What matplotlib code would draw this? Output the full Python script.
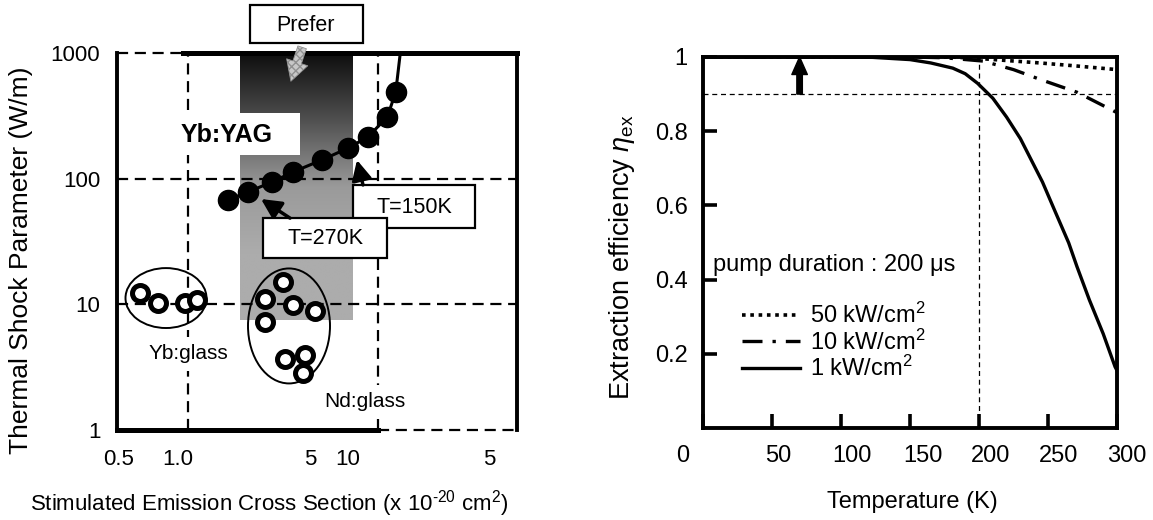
import numpy as np
import matplotlib
matplotlib.use('Agg')
import matplotlib.pyplot as plt
from matplotlib.patches import Rectangle, Ellipse, FancyArrowPatch
from matplotlib.colors import LinearSegmentedColormap
import matplotlib.transforms as mtransforms

plt.rcParams['font.family'] = ['Liberation Sans', 'DejaVu Sans']
plt.rcParams['mathtext.fontset'] = 'custom'
plt.rcParams['mathtext.rm'] = 'Liberation Sans'
plt.rcParams['mathtext.it'] = 'Liberation Sans:italic'
plt.rcParams['mathtext.bf'] = 'Liberation Sans:bold'

# ---------------- Left panel data ----------------
yag_sigma = [1.62, 2.07, 2.77, 3.57, 5.07, 6.95, 8.86, 11.2, 12.4]
yag_tsp = [67.7, 78.4, 94.1, 113, 141, 175, 215, 310, 490]
yag_tail_sigma = [12.4, 13.1]
yag_tail_tsp = [490, 1000]
ybglass_sigma = [0.559, 0.695, 0.964, 1.115]
ybglass_tsp = [12.3, 10.3, 10.3, 10.8]
ndglass_sigma = [3.16, 2.54, 3.57, 4.66, 2.54, 3.24, 4.13, 4.03]
ndglass_tsp = [15.1, 11.0, 9.9, 8.9, 7.24, 3.68, 3.96, 2.85]
left_yticks = [1, 10, 100, 1000]
left_yticklabels = ['1', '10', '100', '1000']
left_xticks = [0.5, 1, 5, 10, 50]
left_xticklabels = ['0.5', '1.0', '5', '10', '5']
left_xtick_offsets = [-12, -10, -11, -30, -22]   # label shifts in px
guide_sigma = [1, 10]
guide_tsp = [10, 100]

# ---------------- Right panel data ----------------
temp_1kw = [0, 50, 100, 123, 150, 165, 181, 190, 199, 210, 220, 230, 246, 255, 265, 271, 280, 290, 298.6, 300]
eta_1kw = [1.0, 1.0, 1.0, 0.999, 0.993, 0.984, 0.970, 0.955, 0.929, 0.889, 0.838, 0.780, 0.663, 0.585, 0.499, 0.435, 0.345, 0.254, 0.165, 0.155]
temp_10kw = [0, 100, 150, 175, 203, 225, 244, 271, 300]
eta_10kw = [1.0, 1.0, 1.0, 0.998, 0.989, 0.966, 0.940, 0.905, 0.850]
temp_50kw = [0, 100, 180, 200, 244, 270, 300]
eta_50kw = [1.0, 1.0, 1.0, 0.996, 0.984, 0.976, 0.966]
right_xticks = [0, 50, 100, 150, 200, 250, 300]
right_xtick_offsets = [-20, 6, 11, 13, 12, 11, 10]
right_yticks = [0.2, 0.4, 0.6, 0.8, 1.0]
right_yticklabels = ['0.2', '0.4', '0.6', '0.8', '1']
threshold_eta = 0.9
threshold_temp = 200
arrow_temp = 70
legend_labels = ['50 kW/cm$^2$', '10 kW/cm$^2$', '1 kW/cm$^2$']

fig = plt.figure(figsize=(11.53, 5.2), dpi=100)
W, H = 1153, 520

def px_axes(l, t, r, b):
    return [l / W, 1 - b / H, (r - l) / W, (b - t) / H]

# ======================= LEFT PANEL =======================
ax = fig.add_axes(px_axes(117, 53, 517, 430))
ax.set_xscale('log')
ax.set_yscale('log')

# gradient "prefer" region (axes coords)
cmap = LinearSegmentedColormap.from_list('pref', ['#0e0e0e', '#505050', '#9a9a9a', '#acacac', '#acacac'])
grad = np.linspace(0, 1, 256).reshape(-1, 1)
ax.imshow(grad, cmap=cmap, extent=[0.3075, 0.59, 0.2918, 1.0], transform=ax.transAxes,
          aspect='auto', origin='upper', zorder=0.5, interpolation='bilinear')
ax.set_xlim(0.423, 53.9)
ax.set_ylim(1, 1000)
# white notch behind Yb:YAG
ax.add_patch(Rectangle((0.145, 0.7294), 0.3125, 0.1114, transform=ax.transAxes,
                       facecolor='white', edgecolor='none', zorder=0.8))

# dashed guide lines
for s in guide_sigma:
    ax.axvline(s, color='black', lw=1.6, ls=(0, (5, 3)), zorder=0.7)
for t in guide_tsp:
    ax.axhline(t, color='black', lw=1.6, ls=(0, (5, 3)), zorder=0.7)

# borders (mixed solid/dashed like reference)
for sp in ['top', 'bottom']:
    ax.spines[sp].set_visible(False)
for sp in ['left', 'right']:
    ax.spines[sp].set_linewidth(2.8)
ax.axhline(1, xmin=0, xmax=0.6525, color='black', lw=3.6, zorder=3, clip_on=False)
ax.axhline(1, xmin=0.6525, xmax=1, color='black', lw=1.6, ls=(0, (5, 3)), zorder=3, clip_on=False)
ax.axhline(1000, xmin=0, xmax=0.165, color='black', lw=1.6, ls=(0, (5, 3)), zorder=3, clip_on=False)
ax.axhline(1000, xmin=0.165, xmax=1, color='black', lw=3.6, zorder=3, clip_on=False)

# Yb:YAG curve
ax.plot(yag_sigma + yag_tail_sigma[1:], yag_tsp + yag_tail_tsp[1:], color='black', lw=2.2, zorder=4,
        clip_on=False)
ax.plot(yag_sigma, yag_tsp, 'o', color='black', ms=14.5, zorder=5)

# glasses
ax.plot(ybglass_sigma, ybglass_tsp, 'o', mfc='white', mec='black', mew=3.6, ms=11.5, zorder=5)
ax.plot(ndglass_sigma, ndglass_tsp, 'o', mfc='white', mec='black', mew=3.6, ms=11.5, zorder=5)
ax.add_patch(Ellipse((0.1225, 0.350), 0.2025, 0.159, transform=ax.transAxes,
                     facecolor='none', edgecolor='black', lw=1.4, zorder=4))
ax.add_patch(Ellipse((0.43, 0.276), 0.205, 0.305, transform=ax.transAxes,
                     facecolor='none', edgecolor='black', lw=1.4, zorder=4))

ax.text(0.1775, 0.2016, 'Yb:glass', transform=ax.transAxes, ha='center', va='center',
        fontsize=15, zorder=4,
        bbox=dict(boxstyle='square,pad=0.35', fc='white', ec='none'))
ax.text(0.62, 0.0743, 'Nd:glass', transform=ax.transAxes, ha='center', va='center',
        fontsize=15, zorder=4,
        bbox=dict(boxstyle='square,pad=0.35', fc='white', ec='none'))
ax.text(0.275, 0.782, 'Yb:YAG', transform=ax.transAxes, ha='center', va='center',
        fontsize=18, fontweight='bold', zorder=4)

def boxed(axx, x0, y0, x1, y1, text, tx, ty, z):
    axx.add_patch(Rectangle((x0, y0), x1 - x0, y1 - y0, transform=axx.transAxes,
                            facecolor='white', edgecolor='black', lw=1.6, zorder=z, clip_on=False))
    axx.text(tx, ty, text, transform=axx.transAxes, ha='center', va='center',
             fontsize=15.5, zorder=z + 0.1, clip_on=False)

# T=150K box (below) then T=270K box (on top)
boxed(ax, 0.59, 0.536, 0.895, 0.650, 'T=150K', 0.7425, 0.5915, 6)
ax.annotate('', xy=(0.60, 0.7162), xytext=(0.615, 0.650), xycoords='axes fraction',
            textcoords='axes fraction',
            arrowprops=dict(arrowstyle='-|>,head_length=0.6,head_width=0.3', lw=2.5, color='black',
                            shrinkA=0, shrinkB=0, mutation_scale=20), zorder=6)
boxed(ax, 0.365, 0.456, 0.675, 0.562, 'T=270K', 0.52, 0.509, 7)
ax.annotate('', xy=(0.36, 0.6127), xytext=(0.4325, 0.562), xycoords='axes fraction',
            textcoords='axes fraction',
            arrowprops=dict(arrowstyle='-|>,head_length=0.6,head_width=0.3', lw=2.5, color='black',
                            shrinkA=0, shrinkB=0, mutation_scale=20), zorder=7)

# Prefer box above axes
boxed(ax, 0.3325, 1.027, 0.615, 1.127, 'Prefer', 0.4725, 1.074, 8)
pref_arrow = FancyArrowPatch((0.465, 1.022), (0.4325, 0.918), transform=ax.transAxes,
                             arrowstyle='simple,head_length=0.9,head_width=1.0,tail_width=0.4',
                             mutation_scale=16, facecolor='#c8c8c8', edgecolor='#909090',
                             hatch='xxxx', lw=0.6, zorder=8, clip_on=False)
ax.add_patch(pref_arrow)

# ticks
ax.set_yticks(left_yticks)
ax.set_yticklabels(left_yticklabels)
ax.set_xticks(left_xticks)
ax.set_xticklabels(left_xticklabels)
ax.minorticks_off()
ax.tick_params(axis='both', length=0, labelsize=16)
ax.tick_params(axis='y', pad=12)
ax.tick_params(axis='x', pad=14)
for lab, off in zip(ax.get_xticklabels(), left_xtick_offsets):
    lab.set_transform(lab.get_transform() + mtransforms.ScaledTranslation(off / 100, 0, fig.dpi_scale_trans))

ax.set_ylabel('Thermal Shock Parameter (W/m)', fontsize=19)
ax.yaxis.set_label_coords(-0.21, 0.45)
ax.set_xlabel('Stimulated Emission Cross Section (x 10$^{\\text{-}20}$ cm$^2$)', fontsize=16)
ax.xaxis.set_label_coords(0.38, -0.155)

# ======================= RIGHT PANEL =======================
bx = fig.add_axes(px_axes(703, 57, 1117, 428))
bx.set_xlim(0, 300)
bx.set_ylim(0, 1)
for sp in bx.spines.values():
    sp.set_linewidth(2.8)

bx.axhline(threshold_eta, color='black', lw=0.9, ls=(0, (4, 3)), zorder=1)
bx.axvline(threshold_temp, color='black', lw=0.9, ls=(0, (4, 3)), zorder=1)

l50, = bx.plot(temp_50kw, eta_50kw, color='black', lw=2.6, ls=(0, (1, 1.3)), zorder=3)
l10, = bx.plot(temp_10kw, eta_10kw, color='black', lw=2.4, ls=(0, (6, 3, 1, 3)), zorder=3)
l1, = bx.plot(temp_1kw, eta_1kw, color='black', lw=2.4, zorder=3)

bx.annotate('', xy=(arrow_temp, 1.0), xytext=(arrow_temp, threshold_eta),
            arrowprops=dict(arrowstyle='simple,head_length=0.7,head_width=0.62,tail_width=0.22',
                            color='black', shrinkA=0, shrinkB=0, mutation_scale=18), zorder=4)

bx.text(7, 0.44, 'pump duration : 200 \u03bcs', fontsize=17, ha='left', va='center')
leg = bx.legend([l50, l10, l1], legend_labels, loc='upper left', bbox_to_anchor=(0.094, 0.338),
                frameon=False, fontsize=17, handlelength=2.46, handletextpad=0.42,
                borderpad=0, borderaxespad=0, labelspacing=0.06)

bx.set_xticks(right_xticks)
bx.set_yticks(right_yticks)
bx.set_yticklabels(right_yticklabels)
bx.tick_params(axis='both', direction='in', length=10, width=2.6, labelsize=17)
bx.tick_params(axis='x', pad=12)
bx.tick_params(axis='y', pad=11)
for lab, off in zip(bx.get_xticklabels(), right_xtick_offsets):
    lab.set_transform(lab.get_transform() + mtransforms.ScaledTranslation(off / 100, 0, fig.dpi_scale_trans))

bx.set_ylabel('Extraction efficiency $\\eta_{\\rm ex}$', fontsize=19.5)
bx.yaxis.set_label_coords(-0.16, 0.46)
bx.set_xlabel('Temperature (K)', fontsize=17)
bx.xaxis.set_label_coords(0.505, -0.17)

fig.savefig('out.png', dpi=100)
